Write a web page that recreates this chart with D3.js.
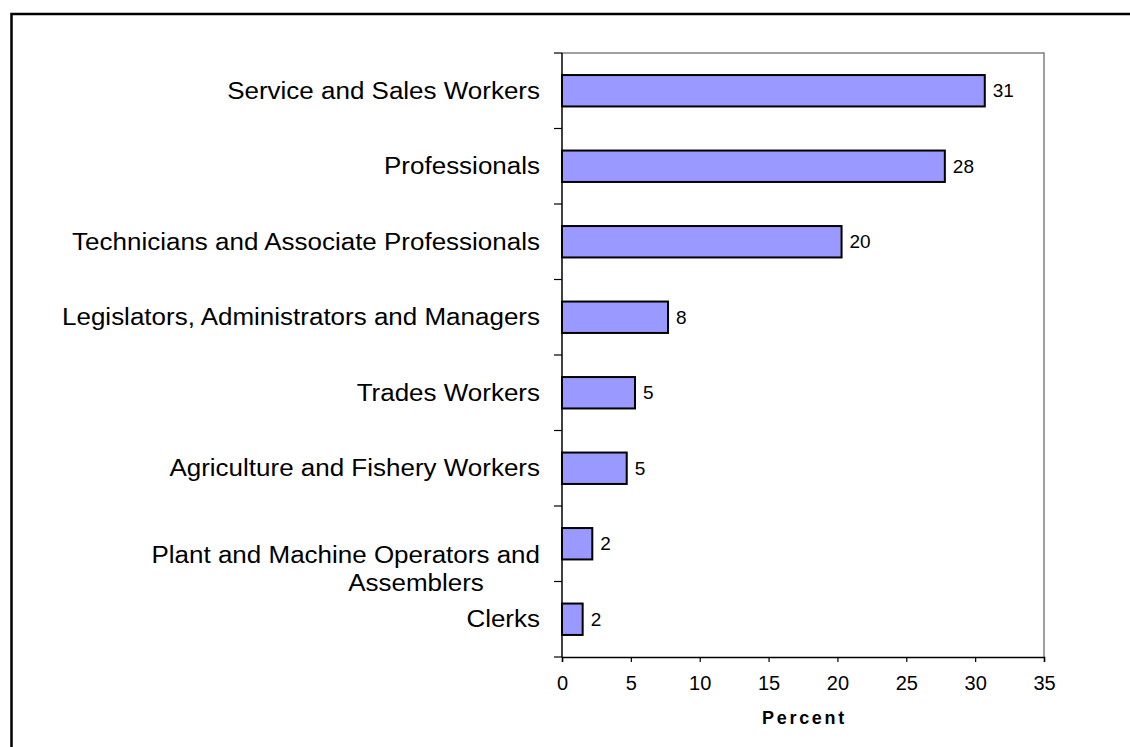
<!DOCTYPE html>
<html>
<head>
<meta charset="utf-8">
<script src="https://cdn.jsdelivr.net/npm/d3@7"></script>
<style>
  html, body { margin: 0; padding: 0; background: #fff; }
  svg { display: block; }
  text { font-family: "Liberation Sans", Arial, sans-serif; fill: #000; }
</style>
</head>
<body>
<svg id="chart" width="1130" height="747"></svg>
<script>
// Occupation shares (percent), listed top to bottom
const categories = [
  "Service and Sales Workers",
  "Professionals",
  "Technicians and Associate Professionals",
  "Legislators, Administrators and Managers",
  "Trades Workers",
  "Agriculture and Fishery Workers",
  "Plant and Machine Operators and Assemblers",
  "Clerks"
];
const values = [30.7, 27.8, 20.3, 7.7, 5.3, 4.7, 2.2, 1.5];
const xTicks = [0, 5, 10, 15, 20, 25, 30, 35];
const xTitle = "Percent";

const svg = d3.select("#chart");
const W = 1130, H = 747;
const plot = { left: 562, right: 1044, top: 53, bottom: 657 };

// outer frame
svg.append("rect")
  .attr("x", 11.5).attr("y", 14)
  .attr("width", W + 10).attr("height", H + 10)
  .attr("fill", "none").attr("stroke", "#000").attr("stroke-width", 2.5);

const x = d3.scaleLinear().domain([0, 35]).range([plot.left, plot.right]);
const y = d3.scaleBand().domain(categories).range([plot.top, plot.bottom])
  .paddingInner(0.584).paddingOuter(0.292);

// plot-area border (top and right)
svg.append("path")
  .attr("d", `M${plot.left},${plot.top}H${plot.right}V${plot.bottom}`)
  .attr("fill", "none").attr("stroke", "#808080").attr("stroke-width", 1.5);

// bars
svg.append("g").selectAll("rect")
  .data(values)
  .join("rect")
  .attr("x", x(0))
  .attr("y", (d, i) => y(categories[i]))
  .attr("width", d => x(d) - x(0))
  .attr("height", y.bandwidth())
  .attr("fill", "#9999FF")
  .attr("stroke", "#000")
  .attr("stroke-width", 2);

// value labels
const fmt = d3.format(".0f");
svg.append("g").selectAll("text")
  .data(values)
  .join("text")
  .attr("x", d => x(d) + 8)
  .attr("y", (d, i) => y(categories[i]) + y.bandwidth() / 2)
  .attr("dy", "0.35em")
  .attr("font-size", 19)
  .text(d => fmt(d));

// category axis: ticks at band boundaries
const yAxis = svg.append("g").attr("transform", `translate(${plot.left},0)`);
yAxis.append("line")
  .attr("x1", 0).attr("x2", 0).attr("y1", plot.top).attr("y2", plot.bottom)
  .attr("stroke", "#000").attr("stroke-width", 1.5);
const bounds = d3.range(categories.length + 1).map(i => plot.top + i * (plot.bottom - plot.top) / categories.length);
yAxis.selectAll("line.tick")
  .data(bounds)
  .join("line")
  .attr("class", "tick")
  .attr("x1", -8).attr("x2", 0)
  .attr("y1", d => d).attr("y2", d => d)
  .attr("stroke", "#000").attr("stroke-width", 1.2);

// category labels (the long one wraps to two lines); glyphs set slightly wide
const wrapMap = {
  "Plant and Machine Operators and Assemblers": ["Plant and Machine Operators and", "Assemblers"]
};
const labG = svg.append("g");
const labelSize = 23, stretch = 1.13;
function label(px, py, anchor, str) {
  labG.append("g")
    .attr("transform", `translate(${px},${py}) scale(${stretch},1)`)
    .append("text")
    .attr("dy", "0.35em")
    .attr("text-anchor", anchor)
    .attr("font-size", labelSize)
    .text(str);
}
categories.forEach(c => {
  const cy = y(c) + y.bandwidth() / 2;
  const lines = wrapMap[c];
  if (!lines) {
    label(540, cy, "end", c);
  } else {
    label(540, cy + 11, "end", lines[0]);
    label(416, cy + 39, "middle", lines[1]);
  }
});

// value axis
const xAxis = d3.axisBottom(x).tickValues(xTicks).tickSize(5).tickPadding(14).tickFormat(d3.format("d"));
const xg = svg.append("g").attr("transform", `translate(0,${plot.bottom})`).call(xAxis);
xg.select(".domain").attr("stroke", "#000").attr("stroke-width", 1.5);
xg.selectAll(".tick line").attr("stroke", "#000").attr("stroke-width", 1.2);
xg.selectAll(".tick text").attr("font-size", 20).attr("font-family", "Liberation Sans, Arial, sans-serif").attr("fill", "#000");

svg.append("text")
  .attr("x", (plot.left + plot.right) / 2 + 1.5).attr("y", 724)
  .attr("text-anchor", "middle")
  .attr("font-size", 18).attr("font-weight", "bold")
  .attr("letter-spacing", 2.7)
  .text(xTitle);
</script>
</body>
</html>
